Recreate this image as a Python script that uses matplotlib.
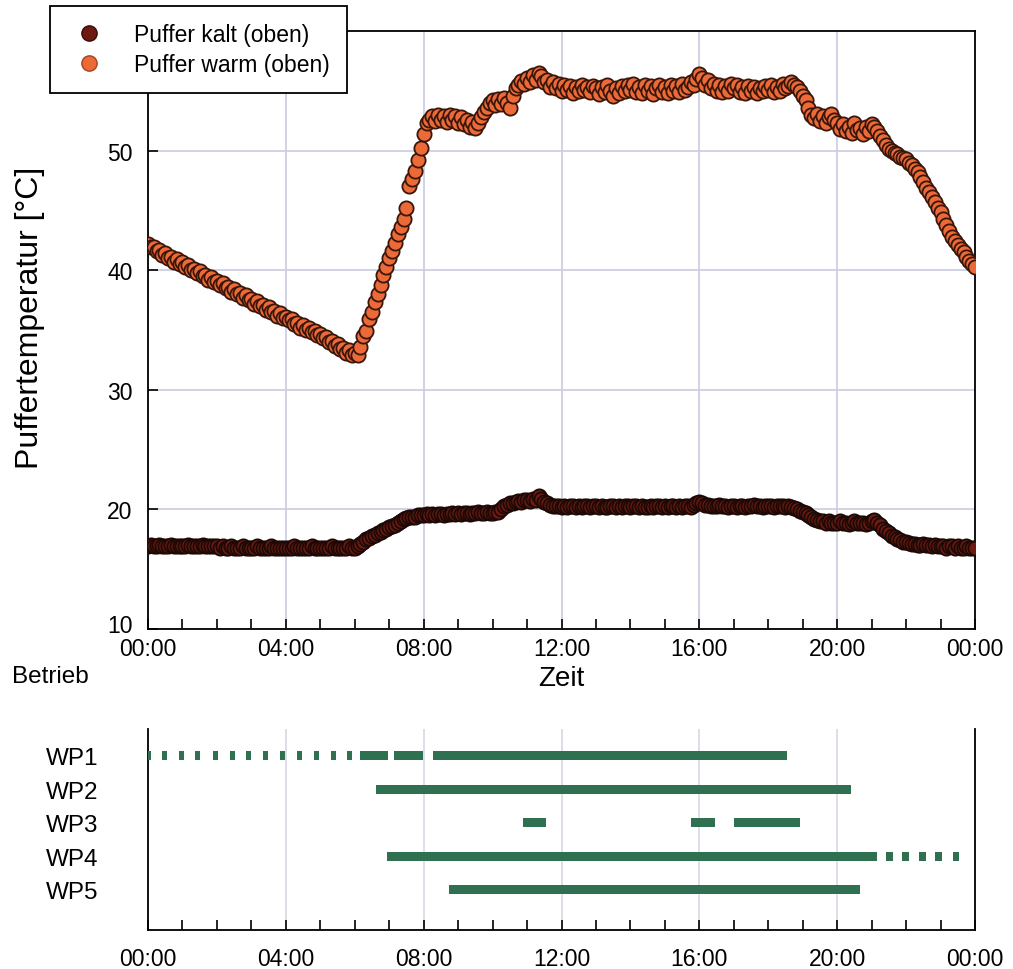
import numpy as np
import matplotlib
matplotlib.use("Agg")
import matplotlib.pyplot as plt
import matplotlib.transforms as mtransforms
from matplotlib.ticker import MultipleLocator
from matplotlib.lines import Line2D

plt.rcParams['font.family'] = ['Liberation Sans', 'DejaVu Sans']

# ---------------- data ----------------
# 5-minute samples, 00:00 .. 24:00; one row per hour
puffer_warm = [
    42.2, 41.9, 41.9, 41.6, 41.7, 41.3, 41.4, 41.0, 41.1, 40.7, 40.9, 40.5,
    40.7, 40.3, 40.4, 40.0, 40.1, 39.8, 39.9, 39.5, 39.6, 39.2, 39.4, 39.0,
    39.1, 38.8, 38.9, 38.5, 38.6, 38.2, 38.4, 38.0, 38.1, 37.7, 37.9, 37.5,
    37.6, 37.2, 37.4, 37.0, 37.1, 36.7, 36.9, 36.5, 36.6, 36.2, 36.4, 36.0,
    36.1, 35.8, 35.9, 35.5, 35.6, 35.2, 35.4, 35.0, 35.2, 34.8, 34.9, 34.6,
    34.7, 34.3, 34.4, 34.0, 34.1, 33.7, 33.8, 33.4, 33.5, 33.1, 33.3, 32.9,
    33.1, 32.9, 33.6, 34.5, 34.9, 35.9, 36.5, 37.3, 38.0, 38.8, 39.6, 40.3,
    41.0, 41.6, 42.3, 43.0, 43.6, 44.3, 45.2, 47.0, 47.6, 48.3, 49.2, 50.2,
    51.4, 52.3, 52.6, 52.9, 52.5, 53.0, 52.6, 52.9, 52.4, 53.0, 52.6, 52.9,
    52.3, 52.8, 52.2, 52.6, 52.0, 52.4, 51.9, 52.3, 52.8, 53.2, 53.6, 54.0,
    54.2, 53.8, 54.3, 53.9, 54.4, 54.0, 53.6, 54.6, 55.2, 55.5, 55.8, 55.6,
    56.1, 55.7, 56.3, 55.9, 56.5, 56.2, 55.7, 55.9, 55.3, 55.7, 55.2, 55.6,
    55.0, 55.5, 55.1, 55.4, 54.8, 55.3, 55.0, 55.5, 55.1, 55.3, 54.9, 55.4,
    55.2, 54.7, 55.3, 54.9, 55.5, 55.0, 54.6, 55.2, 54.8, 55.4, 55.0, 55.5,
    55.1, 55.6, 54.9, 55.3, 54.8, 55.5, 55.0, 55.4, 54.7, 55.2, 55.5, 54.9,
    55.3, 54.8, 55.5, 55.0, 55.4, 54.9, 55.6, 55.1, 55.3, 55.7, 55.5, 56.0,
    56.4, 56.1, 55.5, 55.9, 55.2, 55.6, 55.0, 55.5, 54.9, 55.4, 55.0, 55.6,
    55.2, 55.5, 54.9, 55.3, 54.8, 55.4, 55.0, 55.3, 54.8, 55.2, 55.0, 55.4,
    55.1, 55.5, 54.9, 55.3, 55.0, 55.6, 55.2, 55.4, 55.7, 55.5, 55.3, 55.0,
    54.6, 54.2, 53.6, 53.0, 52.7, 53.1, 52.5, 52.9, 52.3, 52.8, 53.1, 52.6,
    52.3, 51.8, 52.2, 51.6, 52.0, 51.5, 52.3, 51.7, 51.9, 51.4, 52.0, 51.6,
    52.2, 52.0, 51.6, 51.2, 50.9, 50.5, 50.1, 50.0, 49.8, 49.7, 49.5, 49.4,
    49.3, 49.0, 48.8, 48.5, 48.2, 47.8, 47.4, 46.9, 46.5, 46.1, 45.7, 45.2,
    44.9, 44.3, 43.8, 43.3, 42.8, 42.4, 42.1, 41.8, 41.5, 41.1, 40.8, 40.5,
    40.3,
]

puffer_kalt = [
    16.9, 17.0, 16.9, 16.9, 17.0, 16.9, 16.9, 16.9, 17.0, 16.9, 16.9, 16.9,
    16.9, 16.9, 17.0, 16.9, 16.9, 16.9, 16.9, 17.0, 16.9, 16.9, 16.9, 16.9,
    16.9, 16.8, 16.9, 16.8, 16.8, 16.9, 16.8, 16.8, 16.8, 16.9, 16.8, 16.8,
    16.8, 16.8, 16.9, 16.8, 16.8, 16.8, 16.8, 16.9, 16.8, 16.8, 16.8, 16.8,
    16.8, 16.8, 16.8, 16.9, 16.8, 16.8, 16.8, 16.8, 16.8, 16.9, 16.8, 16.8,
    16.8, 16.8, 16.8, 16.8, 16.9, 16.8, 16.8, 16.8, 16.8, 16.8, 16.9, 16.8,
    16.8, 16.9, 17.1, 17.3, 17.5, 17.6, 17.8, 17.9, 18.0, 18.1, 18.3, 18.4,
    18.5, 18.6, 18.7, 18.9, 19.0, 19.2, 19.3, 19.4, 19.4, 19.4, 19.5, 19.5,
    19.5, 19.6, 19.5, 19.6, 19.5, 19.6, 19.6, 19.5, 19.6, 19.6, 19.7, 19.6,
    19.7, 19.6, 19.7, 19.7, 19.6, 19.7, 19.7, 19.8, 19.7, 19.7, 19.8, 19.7,
    19.7, 19.8, 19.8, 20.0, 20.3, 20.4, 20.5, 20.5, 20.6, 20.7, 20.6, 20.8,
    20.8, 20.7, 20.9, 20.8, 21.1, 20.9, 20.6, 20.5, 20.4, 20.3, 20.3, 20.3,
    20.2, 20.3, 20.2, 20.3, 20.3, 20.2, 20.3, 20.2, 20.3, 20.3, 20.2, 20.3,
    20.3, 20.2, 20.3, 20.2, 20.2, 20.3, 20.3, 20.2, 20.3, 20.2, 20.3, 20.3,
    20.2, 20.3, 20.3, 20.2, 20.3, 20.2, 20.2, 20.3, 20.2, 20.3, 20.3, 20.2,
    20.3, 20.2, 20.3, 20.3, 20.2, 20.3, 20.2, 20.3, 20.3, 20.2, 20.4, 20.5,
    20.6, 20.5, 20.4, 20.4, 20.3, 20.3, 20.3, 20.4, 20.3, 20.3, 20.2, 20.3,
    20.3, 20.2, 20.3, 20.3, 20.2, 20.3, 20.3, 20.4, 20.3, 20.3, 20.2, 20.3,
    20.3, 20.3, 20.2, 20.3, 20.3, 20.3, 20.2, 20.3, 20.2, 20.1, 20.0, 19.9,
    19.8, 19.7, 19.5, 19.4, 19.2, 19.1, 19.0, 19.0, 18.9, 19.0, 18.9, 18.9,
    18.9, 19.0, 18.9, 18.9, 18.8, 18.9, 19.0, 18.9, 18.9, 18.9, 18.8, 18.9,
    19.0, 19.1, 18.9, 18.7, 18.4, 18.2, 18.0, 17.8, 17.7, 17.5, 17.4, 17.3,
    17.3, 17.2, 17.1, 17.1, 17.0, 17.0, 17.1, 17.0, 17.0, 16.9, 17.0, 16.9,
    16.9, 16.9, 16.8, 16.9, 16.9, 16.8, 16.9, 16.8, 16.8, 16.9, 16.8, 16.8,
    16.8,
]

time_h = np.arange(len(puffer_warm)) / 12.0

series_labels = ["Puffer kalt (oben)", "Puffer warm (oben)"]

# operating intervals (start hour, end hour)
wp_names = ["WP1", "WP2", "WP3", "WP4", "WP5"]
wp1 = [(0.0, 0.10), (0.40, 0.55), (0.89, 1.04), (1.37, 1.52), (1.88, 2.03),
       (2.37, 2.52), (2.85, 3.00), (3.34, 3.49), (3.82, 3.97), (4.33, 4.48),
       (4.81, 4.96), (5.30, 5.45), (5.78, 5.93), (6.15, 6.97), (7.14, 7.97),
       (8.28, 18.55)]
wp2 = [(6.63, 20.40)]
wp3 = [(10.89, 11.54), (15.76, 16.45), (17.01, 18.92)]
wp4 = [(6.95, 21.15), (21.41, 21.62), (21.89, 22.09), (22.37, 22.57),
       (22.85, 23.05), (23.35, 23.55)]
wp5 = [(8.73, 20.65)]
wp_intervals = [wp1, wp2, wp3, wp4, wp5]

hour_ticks = [0, 4, 8, 12, 16, 20, 24]
hour_labels = ["00:00", "04:00", "08:00", "12:00", "16:00", "20:00", "00:00"]
temp_ticks = [10, 20, 30, 40, 50]

# ---------------- figure ----------------
W, H = 1013, 970
fig = plt.figure(figsize=(W / 100, H / 100), dpi=100)

def rect(l, t, r, b):
    return [l / W, 1 - b / H, (r - l) / W, (b - t) / H]

ax1 = fig.add_axes(rect(148, 32, 975, 630))
ax2 = fig.add_axes(rect(148, 730, 975, 931))

grid_c = "#c9cbe0"
fs = 16.5

# --- top panel ---
ax1.set_axisbelow(True)
ax1.grid(True, color=grid_c, lw=1.2)
ax1.scatter(time_h, puffer_kalt, s=105, facecolor="#6e1a12", edgecolor="#1c0905",
            linewidths=1.3, zorder=3)
ax1.scatter(time_h, puffer_warm, s=105, facecolor="#ec6a38", edgecolor="#3a160a",
            linewidths=1.3, zorder=3)
ax1.set_xlim(0, 24)
ax1.set_ylim(10, 60)
ax1.set_xticks(hour_ticks)
ax1.set_xticklabels(hour_labels)
ax1.xaxis.set_minor_locator(MultipleLocator(1))
ax1.set_yticks(temp_ticks)
ax1.tick_params(axis="x", which="both", direction="in", length=7, width=1.2,
                labelsize=fs, pad=6)
ax1.tick_params(axis="y", direction="in", length=7, width=1.2, labelsize=fs, pad=11)
for sp in ax1.spines.values():
    sp.set_linewidth(1.3)
# lift the lowest y label slightly so it clears the first time label
lbl10 = ax1.yaxis.get_major_ticks()[0].label1
lbl10.set_transform(lbl10.get_transform() +
                    mtransforms.ScaledTranslation(0, 6 / 100, fig.dpi_scale_trans))
ax1.set_ylabel("Puffertemperatur [°C]", fontsize=23)
ax1.yaxis.set_label_coords((30 - 148) / 827, (630 - 318) / 598)
ax1.yaxis.label.set_va("center")
ax1.set_xlabel("Zeit", fontsize=20)
ax1.xaxis.set_label_coords(0.5, (630 - 679) / 598)
ax1.xaxis.label.set_va("center")

handles = [
    Line2D([], [], marker="o", ls="none", markersize=11, markerfacecolor="#6e1a12",
           markeredgecolor="#3a0c06", markeredgewidth=1.0),
    Line2D([], [], marker="o", ls="none", markersize=11, markerfacecolor="#ec6a38",
           markeredgecolor="#a8401c", markeredgewidth=1.0),
]
leg = fig.legend(handles, series_labels, loc="upper left",
                 bbox_to_anchor=(50 / W, 1 - 7 / H), borderaxespad=0,
                 fontsize=16.5, frameon=True, fancybox=False, edgecolor="black",
                 framealpha=1, handletextpad=1.0, borderpad=0.75,
                 labelspacing=0.3, handlelength=1.92)
leg.get_frame().set_linewidth(1.3)
leg.set_zorder(10)

# --- bottom panel ---
ax2.set_axisbelow(True)
ax2.grid(True, axis="x", color="#d8d8e4", lw=1.2)
for i, iv in enumerate(wp_intervals):
    ax2.broken_barh([(s, e - s) for s, e in iv], (i - 0.13, 0.26),
                    facecolor="#2e7050", edgecolor="none", zorder=3)
ax2.set_xlim(0, 24)
ax2.set_ylim(5.2, -0.8)
ax2.set_yticks(range(len(wp_names)))
ax2.set_yticklabels(wp_names)
ax2.tick_params(axis="y", length=0, labelsize=17.5, pad=36)
ax2.set_xticks(hour_ticks)
ax2.set_xticklabels(hour_labels)
ax2.xaxis.set_minor_locator(MultipleLocator(1))
ax2.tick_params(axis="x", which="both", direction="in", length=7, width=1.2,
                labelsize=fs, pad=12)
ax2.spines["top"].set_visible(False)
for sp in ["left", "right", "bottom"]:
    ax2.spines[sp].set_linewidth(1.3)

fig.text(12 / W, 1 - 677 / H, "Betrieb", fontsize=17.5, va="center", ha="left")

fig.savefig("out.png", dpi=100)
